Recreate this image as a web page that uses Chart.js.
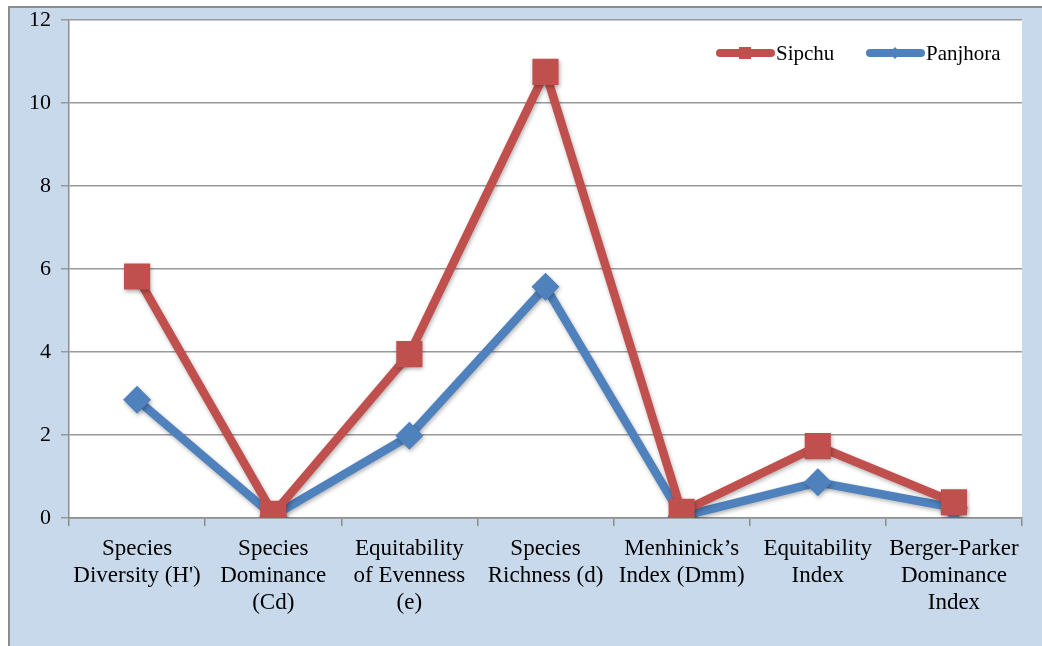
<!DOCTYPE html>
<html>
<head>
<meta charset="utf-8">
<script src="https://cdn.jsdelivr.net/npm/chart.js@4/dist/chart.umd.min.js"></script>
<style>
html,body{margin:0;padding:0;background:#fff;}
#wrap{position:relative;width:1042px;height:646px;}
</style>
</head>
<body>
<div id="wrap"><canvas id="c" width="1042" height="646"></canvas></div>
<script>
const categories = [
  ["Species","Diversity (H')"],
  ["Species","Dominance","(Cd)"],
  ["Equitability","of Evenness","(e)"],
  ["Species","Richness (d)"],
  ["Menhinick\u2019s","Index (Dmm)"],
  ["Equitability","Index"],
  ["Berger-Parker","Dominance","Index"]
];
const sipchu   = [5.82, 0.1, 3.95, 10.75, 0.15, 1.73, 0.38];
const panjhora = [2.85, 0.05, 1.98, 5.57, 0.04, 0.86, 0.25];
const seriesNames = ["Sipchu", "Panjhora"];
const yTicks = [0, 2, 4, 6, 8, 10, 12];

const RED = '#c0504d', BLUE = '#4f81bd';
const FONT = "'Liberation Serif', 'Times New Roman', serif";

const framePlugin = {
  id: 'frame',
  beforeDraw(chart) {
    const ctx = chart.ctx, a = chart.chartArea;
    ctx.save();
    ctx.fillStyle = '#ffffff';
    ctx.fillRect(0, 0, chart.width, chart.height);
    ctx.fillStyle = '#c9d9ec';
    ctx.fillRect(9, 7, chart.width - 9, chart.height - 7);
    ctx.strokeStyle = '#8c8c8c';
    ctx.lineWidth = 2;
    ctx.beginPath();
    ctx.moveTo(9, chart.height); ctx.lineTo(9, 7); ctx.lineTo(chart.width, 7);
    ctx.stroke();
    ctx.fillStyle = '#ffffff';
    ctx.fillRect(a.left, a.top, a.right - a.left, a.bottom - a.top);
    ctx.restore();
  },
  beforeDatasetsDraw(chart) {
    const ctx = chart.ctx;
    ctx.save();
    ctx.shadowColor = 'rgba(0,0,0,0.3)';
    ctx.shadowBlur = 4;
    ctx.shadowOffsetX = 1;
    ctx.shadowOffsetY = 2;
  },
  afterDatasetsDraw(chart) {
    chart.ctx.restore();
  },
  afterDraw(chart) {
    const ctx = chart.ctx;
    const items = [
      {name: seriesNames[0], color: RED, x0: 716, style: 'rect'},
      {name: seriesNames[1], color: BLUE, x0: 866, style: 'diamond'}
    ];
    const y = 53;
    ctx.save();
    items.forEach(it => {
      ctx.strokeStyle = it.color;
      ctx.lineWidth = 8;
      ctx.lineCap = 'round';
      ctx.beginPath();
      ctx.moveTo(it.x0 + 4, y); ctx.lineTo(it.x0 + 55, y);
      ctx.stroke();
      ctx.fillStyle = it.color;
      const cx = it.x0 + 29;
      if (it.style === 'rect') {
        ctx.fillRect(cx - 6, y - 6, 12, 12);
      } else {
        ctx.beginPath();
        ctx.moveTo(cx, y - 6); ctx.lineTo(cx + 6, y); ctx.lineTo(cx, y + 6); ctx.lineTo(cx - 6, y);
        ctx.closePath(); ctx.fill();
      }
      ctx.fillStyle = '#000';
      ctx.font = '21px ' + FONT;
      ctx.textBaseline = 'middle';
      ctx.textAlign = 'left';
      ctx.fillText(it.name, it.x0 + 60, y + 1);
    });
    ctx.restore();
  }
};

new Chart(document.getElementById('c'), {
  type: 'line',
  data: {
    labels: categories,
    datasets: [
      {
        label: seriesNames[0], data: sipchu,
        borderColor: RED, backgroundColor: RED,
        borderWidth: 8.5, pointStyle: 'rect', pointRadius: 18.5,
        pointHoverRadius: 18.5, pointBorderWidth: 0, tension: 0, fill: false,
        order: 0
      },
      {
        label: seriesNames[1], data: panjhora,
        borderColor: BLUE, backgroundColor: BLUE,
        borderWidth: 8.5, pointStyle: 'rectRot', pointRadius: 14,
        pointHoverRadius: 14, pointBorderWidth: 0, tension: 0, fill: false,
        order: 1
      }
    ]
  },
  options: {
    responsive: false,
    animation: false,
    devicePixelRatio: 1,
    layout: { padding: { left: 0, top: 20, right: 20, bottom: 0 } },
    plugins: { legend: { display: false }, tooltip: { enabled: false } },
    scales: {
      x: {
        offset: true,
        grid: { display: true, drawOnChartArea: false, drawTicks: true, tickLength: 8, color: '#8c8c8c', lineWidth: 1.5, offset: true },
        border: { display: true, color: '#8c8c8c', width: 1.5 },
        ticks: { color: '#000', font: { family: FONT, size: 23, lineHeight: 1.174 }, padding: 9, maxRotation: 0, autoSkip: false },
        afterFit(s) { s.height = 128; s.paddingLeft = 0; s.paddingRight = 0; }
      },
      y: {
        min: 0, max: 12,
        afterBuildTicks(s) { s.ticks = yTicks.map(v => ({ value: v })); },
        grid: { color: '#999999', lineWidth: 1.5, tickLength: 8 },
        border: { display: true, color: '#8c8c8c', width: 1.5 },
        ticks: { color: '#000', font: { family: FONT, size: 22 }, padding: 10 },
        afterFit(s) { s.width = 69; s.paddingTop = 0; s.paddingBottom = 0; }
      }
    }
  },
  plugins: [framePlugin]
});
</script>
</body>
</html>
